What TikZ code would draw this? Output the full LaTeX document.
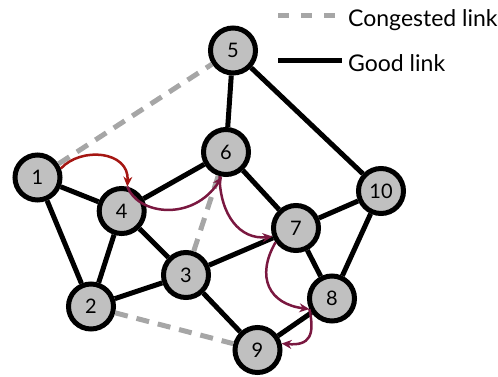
\documentclass[tikz,border=0pt]{standalone}
\usepackage{fontspec}
\setmainfont{Lato}
\usetikzlibrary{arrows.meta}
\definecolor{nodegray}{RGB}{192,192,192}
\definecolor{linkgray}{RGB}{166,166,166}
\definecolor{hopred}{RGB}{165,22,18}
\definecolor{hopmaroon}{RGB}{122,24,64}
\begin{document}
\begin{tikzpicture}[x=1pt,y=-1pt,
  router/.style={circle,draw=black,line width=5pt,fill=nodegray,minimum size=45pt,
    inner sep=0pt,font=\fontsize{20}{20}\selectfont},
  good/.style={draw=black,line width=5pt},
  congested/.style={draw=linkgray,line width=5pt,dash pattern=on 13pt off 9pt},
  hop/.style={line width=2.5pt,-{Stealth[length=10pt,width=9pt]}},
  legendtext/.style={anchor=base west,font=\fontsize{23}{23}\selectfont,inner sep=0pt}]
\useasboundingbox (0,0) rectangle (498,376);

% routers
\node[router] (n1)  at (37.5,177.5) {1};
\node[router] (n2)  at (91,306.5)   {2};
\node[router] (n3)  at (186,275)    {3};
\node[router] (n4)  at (121.7,211)  {4};
\node[router] (n5)  at (233,50.5)   {5};
\node[router] (n6)  at (226,152)    {6};
\node[router] (n7)  at (296,228)    {7};
\node[router] (n8)  at (332,298.5)  {8};
\node[router] (n9)  at (257.5,350)  {9};
\node[router] (n10) at (381,191)    {10};

% links
\draw[good] (n1) -- (n4);
\draw[good] (n1) -- (n2);
\draw[good] (n4) -- (n2);
\draw[good] (n4) -- (n3);
\draw[good] (n4) -- (n6);
\draw[good] (n3) -- (n2);
\draw[good] (n3) -- (n7);
\draw[good] (n3) -- (n9);
\draw[good] (n6) -- (n5);
\draw[good] (n6) -- (n7);
\draw[good] (n5) -- (n10);
\draw[good] (n10) -- (n7);
\draw[good] (n10) -- (n8);
\draw[good] (n7) -- (n8);
\draw[good] (n8) -- (n9);
\draw[congested] (n1) -- (n5);
\draw[congested] (n3) -- (n6);
\draw[congested] (n2) -- (n9);

% forwarding path
\draw[hop,hopred] (n1.21) .. controls +(20,-22) and +(2,-36) .. (n4.77);
\draw[hop,hopmaroon] (n4.77) .. controls (138,215) and (193,222) .. (n6.261);
\draw[hop,hopmaroon] (n6.255) .. controls (220,215) and (240,240) .. (n7.200);
\draw[hop,hopmaroon] (n7.215) .. controls (255.5,277) and (269,304) .. (n8.205);
\draw[hop,hopmaroon] (n8.205) .. controls (315,335) and (310,346) .. (n9.15);

% legend
\coordinate (cgA) at (278.3,15.5);
\coordinate (cgB) at (335,15.5);
\coordinate (gdA) at (278.3,60);
\coordinate (gdB) at (341.7,60);
\draw[draw=linkgray,line width=5.5pt,dash pattern=on 10.5pt off 12.5pt] (cgA) -- (cgB);
\draw[good] (gdA) -- (gdB);
\node[legendtext] (cgtext) at (348,26) {Congested link};
\node[legendtext] (gdtext) at (348,71) {Good link};
\end{tikzpicture}
\end{document}
